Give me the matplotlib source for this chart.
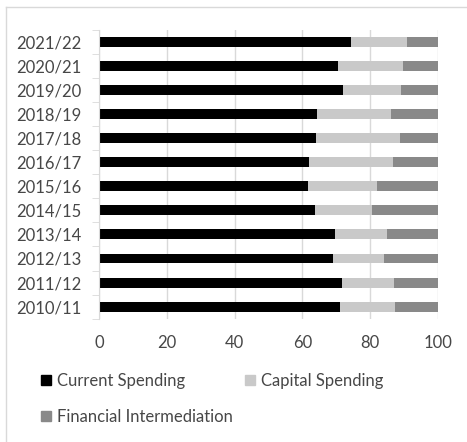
import matplotlib.pyplot as plt
from matplotlib.lines import Line2D
from matplotlib.patches import Patch

plt.rcParams['font.family'] = ['Lato', 'DejaVu Sans']

years = ['2010/11', '2011/12', '2012/13', '2013/14', '2014/15', '2015/16',
         '2016/17', '2017/18', '2018/19', '2019/20', '2020/21', '2021/22']
current = [71.1, 71.7, 69.0, 69.7, 63.8, 61.6, 61.9, 64.0, 64.4, 71.9, 70.6, 74.2]
capital = [16.1, 15.2, 15.2, 15.3, 16.8, 20.5, 24.9, 24.9, 21.8, 17.3, 19.1, 16.7]
financial = [12.8, 13.1, 15.8, 15.0, 19.4, 17.9, 13.2, 11.1, 13.8, 10.8, 10.3, 9.1]

c_cur = '#000000'
c_cap = '#c9c9c9'
c_fin = '#898989'
txt = '#474747'
grid_c = '#d9d9d9'

W, H = 467, 442
fig = plt.figure(figsize=(W / 100, H / 100), dpi=100)
ax = fig.add_axes([99 / W, 1 - 318.7 / H, (438 - 99) / W, (318.7 - 29.7) / H])

y = range(len(years))
bw = 0.41
ax.barh(y, current, height=bw, color=c_cur, zorder=2)
ax.barh(y, capital, left=current, height=bw, color=c_cap, zorder=2)
left3 = [a + b for a, b in zip(current, capital)]
ax.barh(y, financial, left=left3, height=bw, color=c_fin, zorder=2)

ax.set_xlim(0, 100)
ax.set_ylim(-0.5, len(years) - 0.5)
ax.set_xticks([0, 20, 40, 60, 80, 100])
ax.set_yticks(list(y))
ax.set_yticklabels(years)
ax.set_yticks([i - 0.5 for i in range(len(years) + 1)], minor=True)
ax.xaxis.grid(True, color=grid_c, linewidth=1, zorder=0)
ax.set_axisbelow(True)

for s in ['top', 'right', 'bottom']:
    ax.spines[s].set_visible(False)
ax.spines['left'].set_color(grid_c)
ax.tick_params(axis='x', length=0, pad=12, labelsize=12, labelcolor=txt)
ax.tick_params(axis='y', which='major', length=0, pad=13, labelsize=12, labelcolor=txt)
ax.tick_params(axis='y', which='minor', length=5, color=grid_c)

# chart-area border
fig.add_artist(Line2D([6 / W, 6 / W], [0, 1 - 7 / H], color=grid_c, lw=1))
fig.add_artist(Line2D([6 / W, 1], [1 - 7 / H, 1 - 7 / H], color=grid_c, lw=1))

handles = [Patch(color=c_cur), Patch(color=c_fin), Patch(color=c_cap)]
labels = ['Current Spending', 'Financial Intermediation', 'Capital Spending']
fig.legend(handles, labels, ncol=2, loc='upper left',
           bbox_to_anchor=(41 / W, 1 - 373 / H), frameon=False,
           fontsize=12, labelcolor=txt, handlelength=0.6, handleheight=0.6,
           handletextpad=0.35, columnspacing=0.75, labelspacing=1.2,
           borderpad=0, borderaxespad=0)

fig.savefig('out.png', dpi=100)
